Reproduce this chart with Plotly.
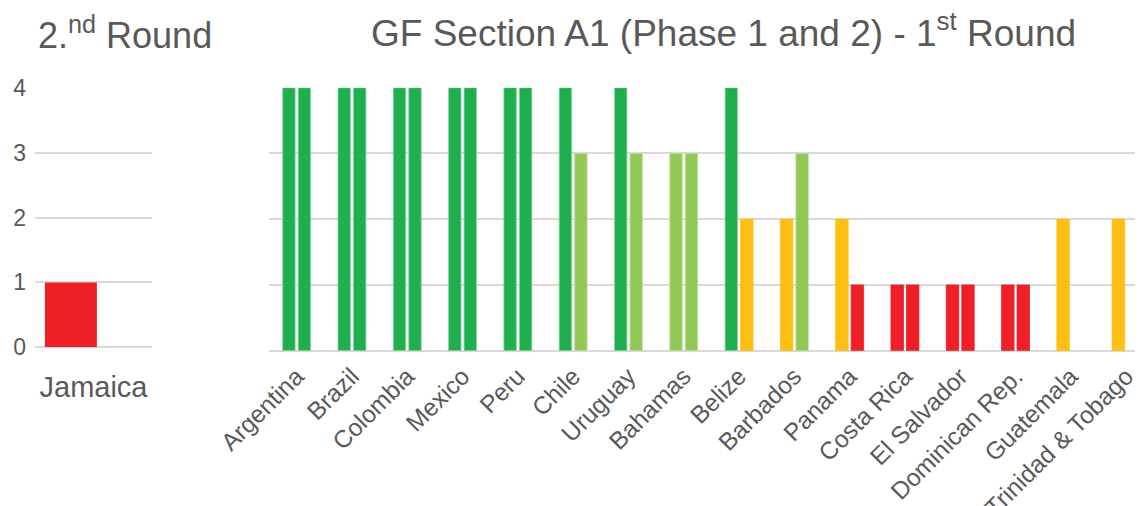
import plotly.graph_objects as go

# page has an 8px body margin, so the figure is drawn 8px in from the window edge
OFF = 8
W, H = 1143 - OFF, 506 - OFF

# ---- data ----
round2_countries = ["Jamaica"]
round2_values = [1]

countries = ["Argentina", "Brazil", "Colombia", "Mexico", "Peru", "Chile", "Uruguay",
             "Bahamas", "Belize", "Barbados", "Panama", "Costa Rica", "El Salvador",
             "Dominican Rep.", "Guatemala", "Trinidad & Tobago"]
phase1 = [4, 4, 4, 4, 4, 4, 4, 3, 4, 2, 2, 1, 1, 1, 2, 2]
phase2 = [4, 4, 4, 4, 4, 3, 3, 3, 2, 3, 1, 1, 1, 1, None, None]
y_ticks = [0, 1, 2, 3, 4]

# ---- style ----
COLORS = {4: "#1FAF4F", 3: "#92C855", 2: "#FCBF12", 1: "#EE1F26"}
EDGE = {4: "#8FD6A2", 3: "#C4E2A4", 2: "#FCBF12", 1: "#EE1F26"}
TXT = "#595959"
GRID = "#D9D9D9"
FONT = "Liberation Sans, Arial, sans-serif"


def px_x(p):
    return (p - OFF) / W


def px_y(p):
    return 1 - (p - OFF) / H


def cols(vals, m):
    return [m.get(v, "#FFFFFF") if v is not None else "#FFFFFF" for v in vals]


fig = go.Figure()

# left panel: 2nd round
fig.add_trace(go.Bar(
    x=round2_countries, y=round2_values, xaxis="x", yaxis="y",
    marker=dict(color=cols(round2_values, COLORS), line=dict(width=0)),
    width=0.444, offset=-0.415, showlegend=False,
))

# right panel: 1st round, phase 1 and 2
fig.add_trace(go.Bar(
    x=countries, y=phase1, xaxis="x2", yaxis="y2", name="Phase 1",
    marker=dict(color=cols(phase1, COLORS), line=dict(width=0.8, color=cols(phase1, EDGE))),
    showlegend=False,
))
fig.add_trace(go.Bar(
    x=countries, y=phase2, xaxis="x2", yaxis="y2", name="Phase 2",
    marker=dict(color=cols(phase2, COLORS), line=dict(width=0.8, color=cols(phase2, EDGE))),
    showlegend=False,
))

yax_common = dict(range=[0, 4], tickvals=y_ticks, showgrid=True, gridcolor=GRID,
                  gridwidth=2, zeroline=True, zerolinecolor=GRID, zerolinewidth=2,
                  showline=False, fixedrange=True)

fig.update_layout(
    width=W, height=H,
    margin=dict(l=0, r=0, t=0, b=0),
    paper_bgcolor="white", plot_bgcolor="white",
    barmode="group", bargap=0.44, bargroupgap=0.194,
    font=dict(family=FONT, color=TXT),
    xaxis=dict(domain=[px_x(35), px_x(152)], range=[-0.5, 0.5], showgrid=False,
               showline=False, ticks="outside", ticklen=14, tickcolor="rgba(0,0,0,0)",
               tickfont=dict(size=29, color=TXT), automargin=False, fixedrange=True),
    yaxis=dict(domain=[px_y(347.3), px_y(87.7)], tickfont=dict(size=23, color=TXT),
               showticklabels=True, ticklabelstandoff=8, automargin=False, **yax_common),
    xaxis2=dict(domain=[px_x(269), 1.0], range=[-0.5, (W + OFF - 269) / 55.3 - 0.5],
                showgrid=False, showline=False, tickangle=-45,
                tickfont=dict(size=24.5, color=TXT),
                ticks="outside", ticklen=4, tickcolor="rgba(0,0,0,0)",
                automargin=False, fixedrange=True),
    yaxis2=dict(domain=[px_y(350.7), px_y(87.7)], anchor="x2", showticklabels=False,
                automargin=False, **yax_common),
    annotations=[
        dict(text="2.<sup>nd</sup> Round", x=px_x(36), y=px_y(8), xref="paper", yref="paper",
             xanchor="left", yanchor="top", showarrow=False,
             font=dict(size=36, color=TXT, family=FONT)),
        dict(text="GF Section A1 (Phase 1 and 2) - 1<sup>st</sup> Round", x=px_x(723), y=px_y(5),
             xref="paper", yref="paper", xanchor="center", yanchor="top", showarrow=False,
             font=dict(size=37, color=TXT, family=FONT)),
    ],
)

fig.write_html("out.html")
